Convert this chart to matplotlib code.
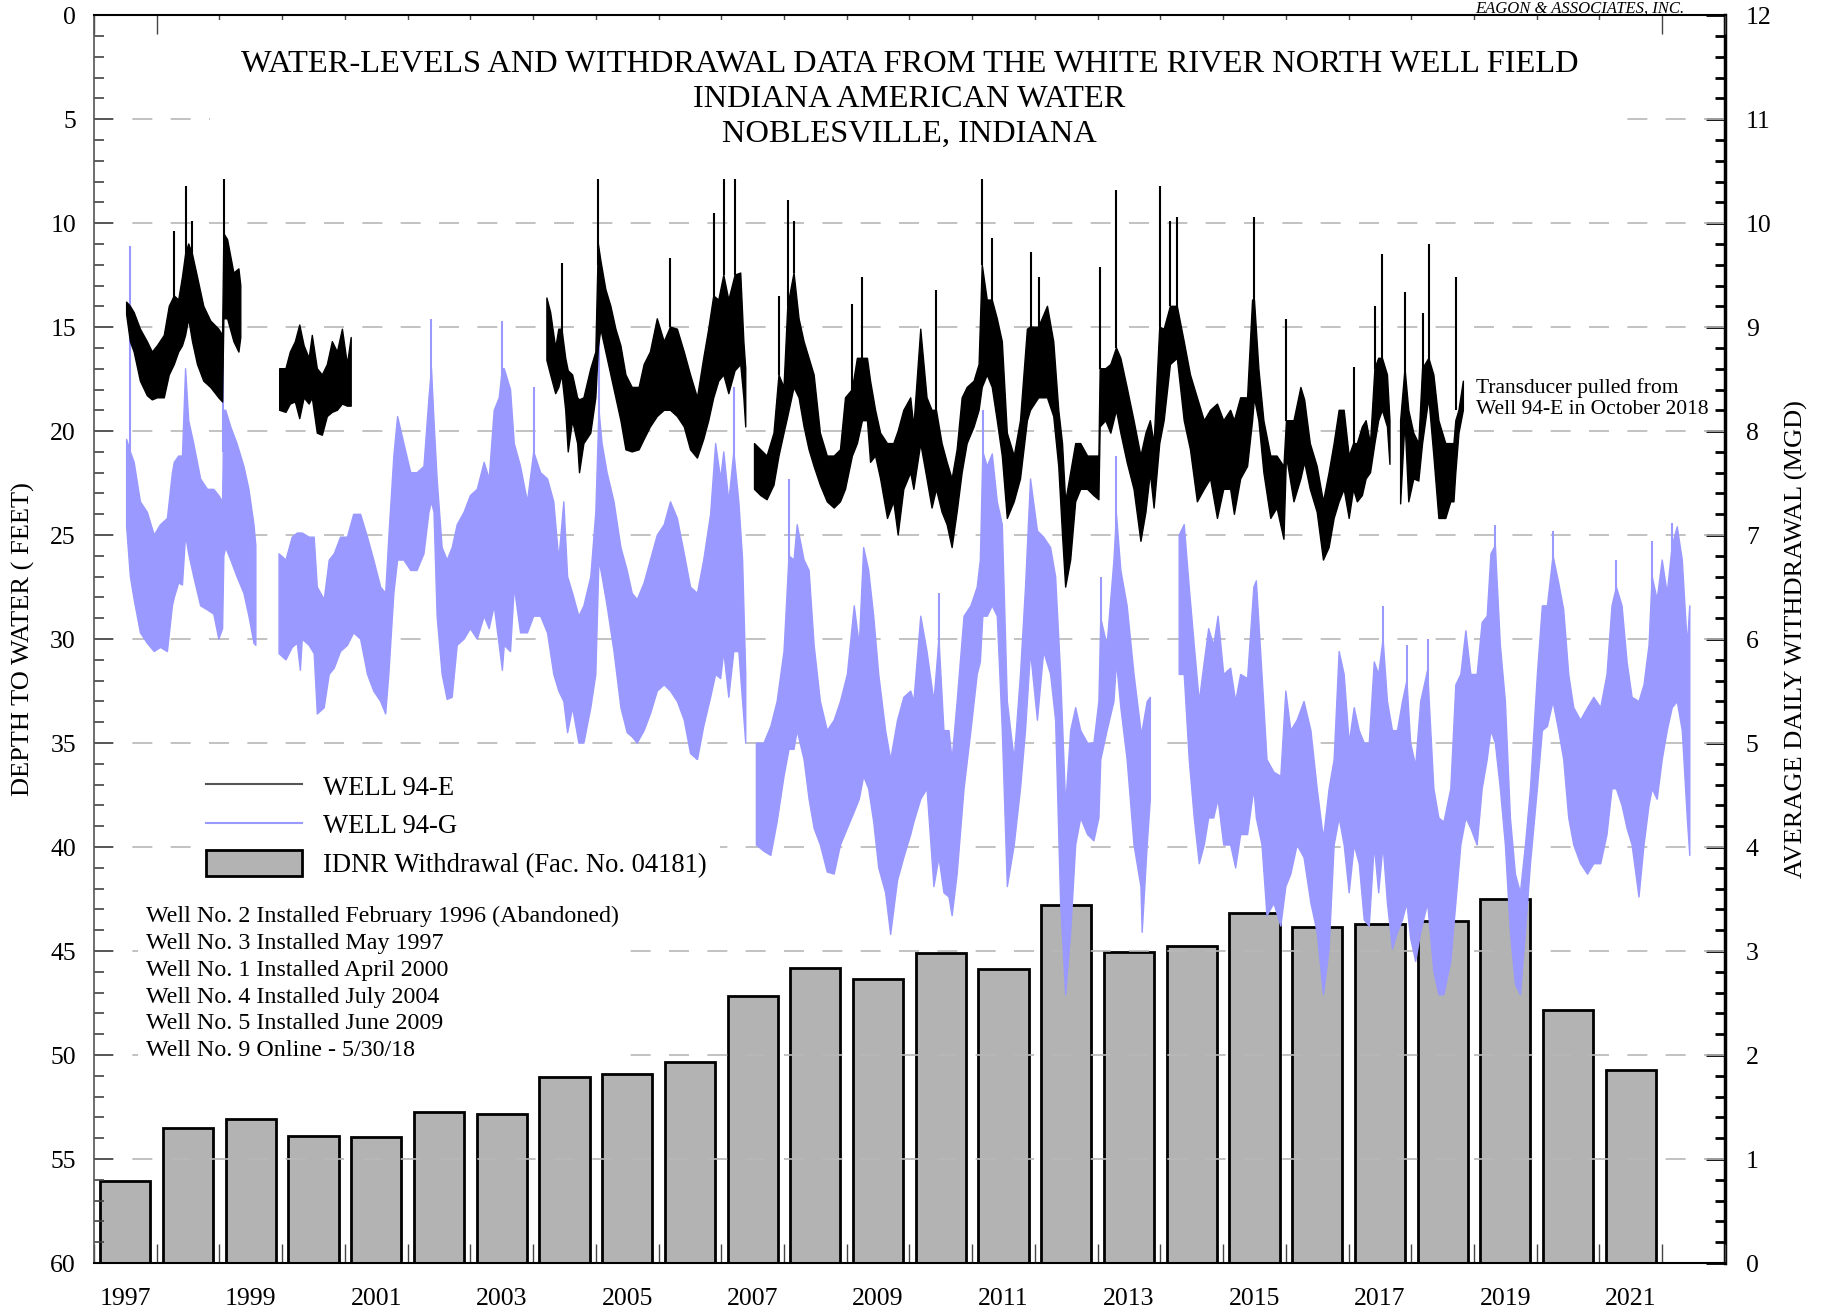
import numpy as np
import matplotlib
matplotlib.use("Agg")
import matplotlib.pyplot as plt
from matplotlib.lines import Line2D
from matplotlib.patches import Patch
from matplotlib.ticker import MultipleLocator, FixedLocator, NullFormatter, FixedFormatter

plt.rcParams['font.family'] = ['Liberation Serif', 'DejaVu Serif']

nan = float('nan')

# ---------------- IDNR withdrawal (MGD), one bar per year ----------------
years = list(range(1997, 2022))
withdrawal_mgd = [0.79, 1.30, 1.39, 1.22, 1.21, 1.45, 1.43, 1.79, 1.82, 1.93,
                  2.57, 2.84, 2.73, 2.98, 2.83, 3.44, 2.99, 3.05, 3.37, 3.23,
                  3.26, 3.29, 3.50, 2.43, 1.86]
year_labels = [str(y) for y in range(1997, 2022, 2)]

# ---------------- WELL 94-E depth envelope (ft), NaN = data gap ----------------
e94_year = [1997.52, 1997.58, 1997.64, 1997.74, 1997.85, 1997.93, 1998.01, 1998.12, 1998.20, 1998.28,
            1998.35, 1998.41, 1998.46, 1998.51, 1998.57, 1998.65, 1998.75, 1998.86, 1998.99, 1999.05,
            1999.07, 1999.13, 1999.23, 1999.31, 1999.34, nan,
            1999.96, 2000.06, 2000.13, 2000.21, 2000.28, 2000.35, 2000.43, 2000.48, 2000.56, 2000.64,
            2000.72, 2000.80, 2000.88, 2000.96, 2001.04, 2001.10, nan,
            2004.22, 2004.28, 2004.36, 2004.41, 2004.46, 2004.52, 2004.56, 2004.63, 2004.71, 2004.74,
            2004.81, 2004.92, 2005.00, 2005.04, 2005.08, 2005.16, 2005.24, 2005.32, 2005.40, 2005.48,
            2005.58, 2005.69, 2005.77, 2005.87, 2005.98, 2006.09, 2006.19, 2006.30, 2006.41, 2006.51,
            2006.62, 2006.72, 2006.80, 2006.88, 2006.96, 2007.04, 2007.12, 2007.22, 2007.31, 2007.36,
            2007.39, nan,
            2007.53, 2007.63, 2007.73, 2007.84, 2007.92, 2008.00, 2008.06, 2008.16, 2008.24, 2008.32,
            2008.40, 2008.48, 2008.58, 2008.69, 2008.80, 2008.90, 2008.98, 2009.09, 2009.17, 2009.25,
            2009.33, 2009.38, 2009.46, 2009.54, 2009.65, 2009.75, 2009.82, 2009.91, 2010.02, 2010.07,
            2010.18, 2010.28, 2010.36, 2010.43, 2010.52, 2010.60, 2010.68, 2010.76, 2010.84, 2010.92,
            2011.03, 2011.11, 2011.16, 2011.24, 2011.32, 2011.40, 2011.48, 2011.56, 2011.67, 2011.77,
            2011.88, 2011.93, 2012.06, 2012.20, 2012.30, 2012.38, 2012.44, 2012.49, 2012.57, 2012.65,
            2012.73, 2012.84, 2012.94, 2013.02, 2013.04, 2013.13, 2013.21, 2013.30, 2013.37, 2013.47,
            2013.58, 2013.69, 2013.77, 2013.84, 2013.90, 2013.99, 2014.06, 2014.16, 2014.27, 2014.38,
            2014.48, 2014.59, 2014.70, 2014.80, 2014.91, 2015.01, 2015.12, 2015.18, 2015.28, 2015.39,
            2015.47, 2015.50, 2015.57, 2015.65, 2015.76, 2015.86, 2015.97, 2016.01, 2016.13, 2016.24,
            2016.30, 2016.39, 2016.50, 2016.60, 2016.69, 2016.77, 2016.85, 2016.93, 2017.01, 2017.08,
            2017.14, 2017.22, 2017.28, 2017.35, 2017.42, 2017.48, 2017.54, 2017.62, 2017.66, nan,
            2017.83, 2017.90, 2017.96, 2018.04, 2018.12, 2018.18, 2018.28, 2018.36, 2018.44, 2018.55,
            2018.63, 2018.68, 2018.71, 2018.76, 2018.83]
e94_shallow = [13.8, 14.0, 14.3, 15.1, 15.7, 16.2, 15.9, 15.4, 14.0, 13.5,
               13.7, 12.6, 11.5, 11.0, 11.5, 12.6, 14.0, 14.7, 15.1, 15.4,
               10.5, 10.8, 12.4, 12.2, 13.0, nan,
               17.0, 17.0, 16.2, 15.7, 14.9, 15.9, 16.5, 15.4, 17.0, 17.3,
               16.8, 15.7, 16.2, 15.1, 16.8, 15.5, nan,
               13.6, 14.3, 16.0, 15.1, 15.1, 16.5, 17.1, 17.3, 18.4, 18.5,
               18.4, 17.0, 16.2, 11.0, 11.8, 13.2, 14.0, 15.1, 15.9, 17.3,
               17.9, 17.9, 16.8, 16.2, 14.6, 15.7, 15.0, 15.1, 16.2, 17.3,
               18.4, 16.5, 15.1, 13.5, 13.7, 12.5, 13.7, 12.5, 12.4, 15.7,
               17.0, nan,
               20.6, 20.9, 21.2, 20.1, 17.3, 17.9, 14.0, 12.4, 14.6, 15.7,
               16.5, 17.3, 20.1, 21.2, 21.2, 20.9, 18.4, 18.0, 16.5, 16.5,
               16.5, 17.6, 19.0, 20.1, 20.6, 20.6, 20.0, 19.0, 18.4, 19.8,
               15.1, 18.4, 19.0, 19.0, 20.6, 21.5, 22.3, 20.9, 18.4, 17.9,
               17.6, 16.8, 12.0, 13.7, 13.7, 14.6, 15.7, 20.1, 21.2, 19.5,
               15.1, 15.0, 15.0, 14.0, 15.7, 19.0, 20.6, 23.4, 22.0, 20.6,
               20.6, 21.2, 21.2, 21.2, 17.0, 17.0, 16.8, 16.0, 16.5, 17.9,
               19.5, 21.2, 20.1, 19.5, 20.6, 15.0, 15.1, 14.0, 14.0, 15.7,
               17.3, 18.4, 19.5, 19.0, 18.7, 19.5, 19.0, 19.5, 18.4, 18.4,
               13.7, 13.7, 17.0, 19.5, 21.2, 21.2, 21.7, 19.5, 19.5, 17.9,
               18.5, 20.6, 21.7, 23.4, 22.0, 20.6, 19.0, 19.0, 21.2, 20.6,
               20.6, 19.8, 19.5, 20.6, 17.0, 16.5, 16.5, 17.3, 19.5, nan,
               19.5, 17.0, 19.0, 20.1, 20.6, 17.0, 16.5, 17.3, 19.5, 20.6,
               20.6, 20.6, 19.5, 19.0, 17.6]
e94_deep = [14.4, 15.7, 16.2, 17.6, 18.3, 18.5, 18.4, 18.4, 17.3, 16.8,
            16.2, 15.9, 15.4, 14.6, 15.7, 16.8, 17.6, 17.9, 18.4, 18.6,
            14.6, 14.6, 15.7, 16.2, 15.5, nan,
            19.0, 19.1, 18.7, 18.6, 19.4, 18.4, 18.7, 18.4, 20.1, 20.2,
            19.3, 19.1, 19.0, 18.7, 18.8, 18.8, nan,
            16.6, 17.3, 18.2, 17.9, 17.3, 19.0, 21.0, 19.5, 20.6, 22.0,
            20.6, 20.1, 18.4, 16.0, 15.1, 16.2, 17.3, 18.4, 19.5, 20.9,
            21.0, 20.9, 20.4, 19.8, 19.3, 19.0, 19.0, 19.3, 19.8, 20.9,
            21.3, 20.4, 19.5, 18.4, 17.6, 17.3, 18.2, 17.1, 16.8, 18.4,
            19.8, nan,
            22.8, 23.1, 23.3, 22.6, 21.2, 20.1, 19.3, 17.9, 18.4, 19.8,
            20.9, 21.7, 22.6, 23.4, 23.7, 23.4, 22.8, 21.2, 20.6, 19.5,
            19.5, 21.5, 21.2, 22.3, 24.2, 23.4, 25.0, 22.8, 22.0, 22.8,
            20.6, 22.3, 23.7, 22.8, 23.9, 24.5, 25.6, 23.9, 22.0, 20.6,
            19.8, 19.0, 17.9, 17.3, 17.9, 19.5, 21.2, 24.2, 23.4, 22.3,
            19.5, 19.0, 18.4, 18.4, 19.3, 21.7, 25.0, 27.5, 26.2, 23.4,
            22.8, 22.8, 23.1, 23.3, 19.8, 19.5, 20.1, 19.0, 20.1, 21.5,
            22.8, 25.3, 23.9, 22.0, 23.7, 20.6, 19.5, 16.8, 16.5, 19.5,
            20.9, 23.4, 22.8, 22.3, 24.2, 22.8, 22.8, 24.0, 22.3, 21.7,
            19.5, 18.4, 19.5, 22.0, 24.2, 23.7, 25.2, 21.2, 23.4, 22.3,
            21.5, 22.8, 23.9, 26.2, 25.6, 24.2, 23.4, 22.8, 24.2, 22.8,
            23.4, 23.1, 22.3, 22.0, 20.6, 19.5, 19.0, 19.8, 21.6, nan,
            23.5, 19.5, 23.4, 22.3, 22.4, 20.6, 18.4, 21.2, 24.2, 24.2,
            23.4, 23.4, 22.0, 20.1, 19.0]
# short-lived peaks of WELL 94-E (year, peak depth, base depth)
e94_peak_year = [1998.28, 1998.46, 1998.57, 1999.07, 2004.46, 2005.04, 2006.19, 2006.88, 2007.04, 2007.22,
                 2007.92, 2008.06, 2008.16, 2009.09, 2009.25, 2010.43, 2011.16, 2011.32, 2011.93, 2012.06,
                 2013.04, 2013.30, 2013.99, 2014.16, 2014.27, 2015.50, 2016.01, 2017.08, 2017.42, 2017.54,
                 2017.90, 2018.18, 2018.28, 2018.71]
e94_peak_depth = [10.4, 8.2, 9.9, 6.4, 11.9, 6.6, 11.7, 9.5, 7.7, 6.6,
                  13.5, 8.9, 9.9, 13.9, 12.6, 13.2, 7.4, 10.7, 11.4, 12.6,
                  12.1, 8.4, 8.2, 9.9, 9.7, 9.7, 14.6, 16.9, 14.0, 11.5,
                  13.3, 14.3, 11.0, 12.6]
e94_peak_base = [14.0, 12.0, 12.0, 11.0, 15.5, 12.0, 15.0, 13.5, 12.5, 12.5,
                 17.3, 14.0, 12.4, 18.0, 16.5, 19.0, 12.0, 13.7, 15.0, 15.0,
                 17.0, 16.0, 15.0, 14.0, 14.0, 13.7, 19.5, 20.6, 17.0, 16.5,
                 19.0, 19.0, 17.3, 19.0]

# ---------------- WELL 94-G depth envelope (ft), NaN = data gap ----------------
g94_year = [1997.52, 1997.58, 1997.64, 1997.74, 1997.85, 1997.96, 1998.06, 1998.17, 1998.25, 1998.28,
            1998.35, 1998.41, 1998.46, 1998.51, 1998.59, 1998.70, 1998.81, 1998.91, 1998.99, 1999.05,
            1999.07, 1999.10, 1999.18, 1999.28, 1999.39, 1999.47, 1999.55, 1999.58, nan,
            1999.95, 2000.06, 2000.16, 2000.24, 2000.29, 2000.32, 2000.43, 2000.51, 2000.56, 2000.67,
            2000.75, 2000.83, 2000.93, 2001.04, 2001.14, 2001.25, 2001.36, 2001.46, 2001.57, 2001.65,
            2001.70, 2001.78, 2001.84, 2001.94, 2002.05, 2002.15, 2002.26, 2002.34, 2002.38, 2002.42,
            2002.47, 2002.55, 2002.63, 2002.71, 2002.79, 2002.90, 2003.00, 2003.11, 2003.22, 2003.30,
            2003.38, 2003.46, 2003.51, 2003.54, 2003.64, 2003.70, 2003.80, 2003.91, 2004.01, 2004.12,
            2004.23, 2004.33, 2004.41, 2004.49, 2004.55, 2004.63, 2004.73, 2004.81, 2004.92, 2005.00,
            2005.05, 2005.10, 2005.18, 2005.29, 2005.40, 2005.50, 2005.58, 2005.66, 2005.77, 2005.87,
            2005.98, 2006.09, 2006.19, 2006.30, 2006.41, 2006.51, 2006.62, 2006.72, 2006.83, 2006.91,
            2006.99, 2007.04, 2007.12, 2007.20, 2007.28, 2007.34, 2007.39, nan,
            2007.56, 2007.68, 2007.79, 2007.89, 2008.00, 2008.08, 2008.16, 2008.21, 2008.32, 2008.40,
            2008.48, 2008.58, 2008.69, 2008.80, 2008.90, 2009.01, 2009.12, 2009.20, 2009.27, 2009.35,
            2009.43, 2009.51, 2009.62, 2009.70, 2009.81, 2009.91, 2010.02, 2010.07, 2010.18, 2010.28,
            2010.39, 2010.47, 2010.55, 2010.63, 2010.68, 2010.76, 2010.87, 2010.98, 2011.08, 2011.13,
            2011.17, 2011.24, 2011.32, 2011.40, 2011.48, 2011.56, 2011.67, 2011.77, 2011.85, 2011.93,
            2012.04, 2012.14, 2012.25, 2012.33, 2012.41, 2012.49, 2012.57, 2012.65, 2012.73, 2012.84,
            2012.94, 2013.02, 2013.05, 2013.15, 2013.26, 2013.30, 2013.37, 2013.47, 2013.58, 2013.69,
            2013.71, 2013.79, 2013.84, nan,
            2014.30, 2014.38, 2014.46, 2014.54, 2014.62, 2014.70, 2014.77, 2014.85, 2014.92, 2015.01,
            2015.12, 2015.20, 2015.28, 2015.39, 2015.49, 2015.53, 2015.62, 2015.70, 2015.81, 2015.92,
            2016.00, 2016.08, 2016.18, 2016.29, 2016.40, 2016.50, 2016.60, 2016.69, 2016.77, 2016.85,
            2016.93, 2017.01, 2017.09, 2017.17, 2017.25, 2017.33, 2017.41, 2017.48, 2017.55, 2017.62,
            2017.70, 2017.78, 2017.86, 2017.93, 2017.99, 2018.07, 2018.15, 2018.26, 2018.36, 2018.44,
            2018.52, 2018.63, 2018.71, 2018.79, 2018.87, 2018.95, 2019.05, 2019.13, 2019.21, 2019.27,
            2019.34, 2019.42, 2019.50, 2019.58, 2019.66, 2019.74, 2019.82, 2019.90, 2020.01, 2020.09,
            2020.17, 2020.26, 2020.35, 2020.43, 2020.51, 2020.59, 2020.70, 2020.81, 2020.91, 2021.02,
            2021.12, 2021.20, 2021.27, 2021.36, 2021.44, 2021.52, 2021.63, 2021.71, 2021.79, 2021.84,
            2021.92, 2022.00, 2022.08, 2022.16, 2022.24, 2022.32, 2022.40, 2022.44]
g94_shallow = [20.4, 21.0, 21.5, 23.4, 23.9, 25.0, 24.5, 24.2, 22.0, 21.5,
               21.2, 21.2, 17.0, 19.5, 20.6, 22.3, 22.8, 22.8, 23.1, 23.4,
               19.0, 19.0, 19.8, 20.6, 21.7, 22.8, 24.5, 25.5, nan,
               25.9, 26.2, 25.1, 24.9, 24.9, 24.9, 25.1, 25.1, 27.5, 28.1,
               26.2, 25.9, 25.1, 25.1, 24.0, 24.0, 25.1, 26.2, 27.5, 27.8,
               25.1, 21.2, 19.3, 20.6, 22.0, 22.0, 21.7, 18.4, 17.0, 19.5,
               22.3, 25.6, 26.2, 25.6, 24.5, 23.9, 23.1, 22.8, 21.5, 22.3,
               19.0, 18.4, 17.0, 17.0, 18.0, 20.6, 21.7, 23.4, 21.0, 22.0,
               22.3, 23.4, 26.2, 23.4, 27.0, 27.8, 28.9, 28.4, 27.0, 23.9,
               19.0, 20.6, 22.0, 23.4, 25.6, 26.7, 27.8, 28.1, 27.3, 26.2,
               25.0, 24.5, 23.4, 24.2, 25.9, 27.5, 27.8, 26.2, 24.0, 20.6,
               22.3, 21.0, 23.4, 21.0, 23.4, 26.2, 31.7, nan,
               35.0, 35.0, 34.2, 33.0, 30.6, 26.0, 26.2, 24.5, 26.2, 26.7,
               30.3, 33.0, 34.4, 33.9, 33.0, 31.7, 28.4, 30.3, 25.6, 26.7,
               28.9, 31.7, 34.4, 35.8, 33.9, 32.8, 32.5, 33.0, 28.9, 30.6,
               33.0, 30.0, 34.4, 34.4, 35.8, 33.0, 28.9, 28.4, 27.5, 26.2,
               21.0, 21.7, 21.1, 23.4, 24.5, 33.0, 35.8, 31.7, 27.5, 22.3,
               24.8, 25.1, 25.6, 27.0, 31.7, 38.0, 34.4, 33.3, 34.4, 35.0,
               35.0, 33.0, 29.0, 30.3, 26.2, 24.0, 26.7, 28.4, 31.7, 34.4,
               34.4, 33.0, 32.8, nan,
               25.0, 24.5, 27.5, 30.3, 33.0, 31.1, 29.5, 30.3, 28.9, 31.7,
               31.4, 33.0, 31.7, 31.9, 27.5, 27.2, 31.7, 35.8, 36.4, 36.6,
               32.5, 34.4, 33.9, 33.0, 34.4, 37.2, 39.6, 37.2, 35.8, 30.6,
               31.7, 35.0, 33.3, 34.4, 35.0, 35.0, 31.1, 31.7, 30.0, 33.0,
               34.4, 34.4, 33.0, 32.0, 35.0, 36.1, 33.0, 31.5, 37.2, 38.6,
               38.8, 37.2, 32.2, 31.7, 29.6, 31.7, 31.7, 29.2, 28.9, 25.9,
               25.5, 30.3, 33.0, 38.6, 41.3, 42.2, 39.9, 37.2, 31.7, 28.4,
               28.4, 26.0, 27.3, 28.6, 31.7, 33.3, 33.9, 33.3, 32.8, 33.3,
               31.7, 28.4, 27.5, 28.4, 31.1, 32.8, 33.0, 32.2, 30.3, 27.0,
               28.1, 26.2, 27.8, 25.5, 24.6, 26.2, 30.3, 28.4]
g94_deep = [24.6, 27.0, 28.1, 29.7, 30.2, 30.6, 30.4, 30.6, 28.4, 28.0,
            27.3, 27.4, 25.0, 25.9, 27.0, 28.4, 28.6, 28.8, 30.0, 29.5,
            26.0, 25.6, 26.2, 27.0, 27.8, 28.9, 30.2, 30.3, nan,
            30.7, 31.0, 30.4, 30.2, 31.5, 30.0, 30.3, 30.7, 33.6, 33.3,
            31.7, 31.4, 30.6, 30.3, 29.7, 30.0, 31.7, 32.5, 33.0, 33.6,
            31.7, 27.8, 26.2, 26.2, 26.7, 26.7, 25.9, 23.9, 23.4, 23.9,
            28.9, 31.7, 32.9, 32.8, 30.3, 30.0, 29.5, 30.0, 28.9, 29.5,
            28.4, 30.3, 31.5, 30.3, 30.6, 27.5, 29.7, 29.7, 28.9, 28.9,
            29.7, 31.7, 32.5, 33.0, 34.5, 33.3, 35.0, 35.0, 33.3, 31.7,
            26.2, 27.0, 28.4, 30.6, 33.3, 34.5, 34.7, 35.0, 34.4, 33.6,
            32.5, 32.2, 32.5, 33.0, 33.9, 35.5, 35.8, 34.2, 32.8, 31.7,
            31.9, 30.6, 32.8, 30.6, 30.6, 33.0, 35.0, nan,
            39.9, 40.2, 40.4, 38.8, 36.6, 35.3, 35.3, 34.4, 35.8, 37.7,
            39.1, 39.9, 41.2, 41.3, 39.9, 39.1, 38.3, 37.7, 36.6, 37.2,
            38.8, 41.0, 42.2, 44.2, 41.6, 40.5, 39.4, 38.8, 37.7, 37.2,
            41.9, 40.5, 42.2, 42.4, 43.3, 41.3, 37.2, 34.4, 31.7, 31.1,
            28.9, 28.9, 28.4, 28.9, 34.4, 41.9, 39.9, 37.2, 34.4, 30.6,
            33.9, 30.6, 31.7, 33.9, 42.7, 47.1, 44.1, 39.9, 38.6, 39.4,
            39.7, 38.6, 35.8, 34.4, 33.0, 31.1, 33.3, 35.8, 39.9, 41.9,
            44.1, 39.9, 37.7, nan,
            31.7, 31.7, 35.8, 38.6, 40.8, 39.9, 38.6, 38.6, 37.7, 39.9,
            39.9, 41.0, 39.4, 39.4, 37.2, 38.6, 39.9, 43.3, 42.7, 43.8,
            41.9, 41.3, 39.9, 40.5, 42.7, 44.1, 47.1, 44.9, 39.9, 38.6,
            39.9, 42.2, 39.9, 40.8, 43.5, 43.8, 39.9, 42.2, 39.9, 42.7,
            44.9, 44.1, 43.5, 42.7, 44.4, 45.5, 44.1, 42.7, 46.0, 47.1,
            47.1, 45.5, 42.7, 39.9, 38.6, 39.1, 39.9, 37.2, 35.8, 34.4,
            35.0, 37.2, 39.9, 44.1, 46.6, 47.1, 44.1, 40.8, 37.2, 34.4,
            34.2, 33.0, 34.4, 35.8, 38.6, 39.9, 40.8, 41.3, 40.8, 40.8,
            39.4, 37.2, 37.2, 38.0, 39.1, 39.9, 42.4, 39.9, 38.0, 37.2,
            37.7, 35.8, 34.4, 33.3, 33.0, 34.4, 38.6, 40.4]
# short-lived peaks of WELL 94-G (year, peak depth, base depth)
g94_peak_year = [1997.58, 1999.06, 2002.38, 2003.51, 2004.01, 2005.05, 2007.20, 2008.08, 2010.47, 2011.17,
                 2013.05, 2013.30, 2017.55, 2017.93, 2018.26, 2019.34, 2020.26, 2021.27, 2021.84, 2022.16]
g94_peak_depth = [11.1, 16.5, 14.6, 14.7, 17.9, 15.7, 17.9, 22.3, 27.8, 19.0,
                  27.0, 21.2, 28.4, 30.3, 30.0, 24.5, 24.8, 26.2, 25.3, 24.4]
g94_peak_base = [21.0, 21.0, 19.0, 20.0, 22.0, 20.0, 22.0, 27.0, 32.0, 23.0,
                 31.0, 26.0, 32.0, 34.0, 34.0, 28.0, 28.0, 29.0, 29.0, 27.0]

BLUE = '#9999ff'
GRAY_BAR = '#b3b3b3'

fig = plt.figure(figsize=(18.29, 13.15), dpi=100)
ax = fig.add_axes([0.0514, 0.0395, 0.8917, 0.9490])
ax2 = ax.twinx()
ax.set_zorder(ax2.get_zorder() + 1)
ax.patch.set_visible(False)

# bars on the right (MGD) axis
ax2.bar(np.array(years) + 0.5, withdrawal_mgd, width=0.8, color=GRAY_BAR,
        edgecolor='black', linewidth=2)
ax2.set_ylim(0, 12)

# water levels on the left (depth) axis
ax.fill_between(g94_year, g94_shallow, g94_deep, facecolor=BLUE, edgecolor=BLUE,
                linewidth=1.0, zorder=2)
ax.vlines(g94_peak_year, g94_peak_depth, g94_peak_base, color=BLUE, linewidth=1.5, zorder=2)
ax.fill_between(e94_year, e94_shallow, e94_deep, facecolor='black', edgecolor='black',
                linewidth=1.0, zorder=3)
ax.vlines(e94_peak_year, e94_peak_depth, e94_peak_base, color='black', linewidth=1.5, zorder=3)

ax.set_xlim(1997, 2023)
ax.set_ylim(60, 0)

# x ticks: year boundaries (unlabelled) + labels at mid-year
ax.xaxis.set_major_locator(FixedLocator(list(range(1997, 2024))))
ax.xaxis.set_major_formatter(NullFormatter())
ax.xaxis.set_minor_locator(FixedLocator([y + 0.5 for y in range(1997, 2022, 2)]))
ax.xaxis.set_minor_formatter(FixedFormatter(year_labels))
ax.tick_params(axis='x', which='major', direction='in', length=14, width=1.0,
               top=True, bottom=True, color='#444444')
ax.tick_params(axis='x', which='minor', length=0, pad=18, labelsize=18.5)

# left y ticks
ax.yaxis.set_major_locator(MultipleLocator(5))
ax.yaxis.set_minor_locator(MultipleLocator(1))
ax.tick_params(axis='y', which='major', direction='in', length=14, width=1.2,
               labelsize=18.5, pad=13, color='#444444')
ax.tick_params(axis='y', which='minor', direction='in', length=7, width=1.2, color='#444444')

# right y ticks
ax2.yaxis.set_major_locator(MultipleLocator(1))
ax2.yaxis.set_minor_locator(MultipleLocator(0.2))
ax2.tick_params(axis='y', which='major', direction='in', length=14, width=2,
                labelsize=18.5, pad=15)
ax2.tick_params(axis='y', which='minor', direction='in', length=7, width=2)

# gridlines
ax.yaxis.grid(True, which='major', color='#b8b8b8', linestyle=(0, (12, 11)), linewidth=1.2)
ax.set_axisbelow('line')

# spines
ax.spines['right'].set_visible(False)
ax.spines['left'].set_color('#555555')
ax.spines['left'].set_linewidth(1.2)
ax.spines['top'].set_linewidth(1.5)
ax.spines['bottom'].set_linewidth(1.5)
for s in ['left', 'top', 'bottom']:
    ax2.spines[s].set_visible(False)
ax2.spines['right'].set_linewidth(2.5)

# axis titles
fig.text(0.0126, 0.514, 'DEPTH TO WATER ( FEET)', rotation=90, ha='center', va='center',
         fontsize=19)
fig.text(0.982, 0.514, 'AVERAGE DAILY WITHDRAWAL (MGD)', rotation=90, ha='center',
         va='center', fontsize=19)

# title block
fig.text(0.4973, 0.9245,
         'WATER-LEVELS AND WITHDRAWAL DATA FROM THE WHITE RIVER NORTH WELL FIELD\n'
         'INDIANA AMERICAN WATER\nNOBLESVILLE, INDIANA',
         ha='center', va='center', fontsize=23.4, linespacing=1.26,
         bbox=dict(facecolor='white', edgecolor='none', pad=22))

fig.text(0.9207, 0.9905, 'EAGON & ASSOCIATES, INC.', ha='right', va='baseline',
         fontsize=12, style='italic')

fig.text(0.807, 0.697, 'Transducer pulled from\nWell 94-E in October 2018',
         ha='left', va='center', fontsize=15.5, linespacing=1.12)

# legend
handles = [Line2D([], [], color='#555555', lw=1.5),
           Line2D([], [], color=BLUE, lw=1.5),
           Patch(facecolor=GRAY_BAR, edgecolor='black', linewidth=2)]
labels = ['WELL 94-E', 'WELL 94-G', 'IDNR Withdrawal (Fac. No. 04181)']
leg = ax.legend(handles, labels, loc='upper left', bbox_to_anchor=(0.0605, 0.4032),
                frameon=True, facecolor='white', edgecolor='none', framealpha=1,
                fancybox=False, fontsize=19.2, handlelength=3.6, handleheight=1.09,
                handletextpad=0.79, labelspacing=0.4, borderpad=0.5, borderaxespad=0)

fig.text(0.0798, 0.2519,
         'Well No. 2 Installed February 1996 (Abandoned)\n'
         'Well No. 3 Installed May 1997\n'
         'Well No. 1 Installed April 2000\n'
         'Well No. 4 Installed July 2004\n'
         'Well No. 5 Installed June 2009\n'
         'Well No. 9 Online - 5/30/18',
         ha='left', va='center', fontsize=17.3, linespacing=1.36,
         bbox=dict(facecolor='white', edgecolor='none', pad=6))

fig.savefig('out.png', dpi=100)
